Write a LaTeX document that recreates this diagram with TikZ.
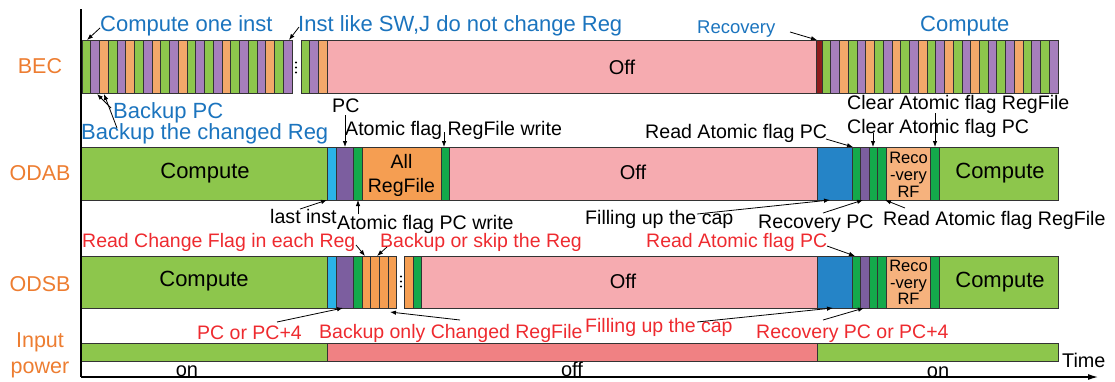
\documentclass[tikz,border=0pt]{standalone}
\usepackage{fontspec}
\setmainfont{Liberation Sans}
\usetikzlibrary{arrows.meta}

\definecolor{cG}{HTML}{8DC64C}
\definecolor{cP}{HTML}{A67FBC}
\definecolor{cO}{HTML}{F3A86A}
\definecolor{cPink}{HTML}{F6ABB0}
\definecolor{cDarkRed}{HTML}{8E1C1C}
\definecolor{cCyan}{HTML}{2AB3E8}
\definecolor{cBlue}{HTML}{2584C7}
\definecolor{cDkGreen}{HTML}{14A94B}
\definecolor{cDkPurple}{HTML}{7C5E9F}
\definecolor{cAllOrange}{HTML}{F59E52}
\definecolor{cLtOrange}{HTML}{F6B27D}
\definecolor{cSalmon}{HTML}{F08183}
\definecolor{cLabel}{HTML}{ED7D31}
\definecolor{cBlueText}{HTML}{1B74BE}
\definecolor{cRedText}{HTML}{EE2A2F}

\tikzset{
  seg/.style={draw=black!80, line width=0.7pt},
  bluelab/.style={font=\fontsize{22}{24}\selectfont, text=cBlueText, inner sep=0pt, anchor=base west},
  blacklab/.style={font=\fontsize{19.6}{22}\selectfont, inner sep=0pt, anchor=base west},
  redlab/.style={font=\fontsize{19.5}{22}\selectfont, text=cRedText, inner sep=0pt, anchor=base west},
  rowlab/.style={font=\fontsize{21.5}{26}\selectfont, text=cLabel, inner sep=0pt, anchor=base},
  inbar/.style={font=\fontsize{22}{24}\selectfont, inner sep=0pt, anchor=base},
  offtxt/.style={font=\fontsize{20}{24}\selectfont, inner sep=0pt, anchor=base},
  smalltxt/.style={font=\fontsize{16.5}{18}\selectfont, inner sep=0pt, anchor=base},
  midtxt/.style={font=\fontsize{19.5}{22}\selectfont, inner sep=0pt, anchor=base},
  ptr/.style={-{Latex[length=6pt,width=4.5pt]}, line width=0.8pt},
}

\begin{document}
\begin{tikzpicture}[x=1pt,y=-1pt]
\useasboundingbox (0,0) rectangle (1115,381);

% ---------------- row labels ----------------
\node[rowlab] (rBEC)  at (40,73)  {BEC};
\node[rowlab] (rODAB) at (40,180) {ODAB};
\node[rowlab] (rODSB) at (40,291) {ODSB};
\node[rowlab] (rIn1)  at (40,347) {Input};
\node[rowlab] (rIn2)  at (40,373) {power};

% ---------------- BEC row ----------------
\foreach \c [count=\i from 0] in {G,P,O,G,P,O,G,P,O,G,P,O,G,P,G,P,O,G,P,G,P,O,G,P}
  \path[seg,fill=c\c] ({82+\i*8.75},40) rectangle ({82+(\i+1)*8.75},93);
\foreach \yy in {62.5,67.5,72.5}
  \fill (296,\yy) circle (1.2);
\foreach \c [count=\i from 0] in {G,P,O}
  \path[seg,fill=c\c] ({301+\i*8.67},40) rectangle ({301+(\i+1)*8.67},93);
\path[seg,fill=cPink] (327,40) rectangle (816,93);
\path[seg,fill=cDarkRed] (816,40) rectangle (822,93);
\foreach \c [count=\i from 0] in {G,P,O,G,P,O,G,P,O,G,P,O,G,P,O,G,P,O,G,P,G,P,O,G,P,G,P}
  \path[seg,fill=c\c] ({822+\i*8.74},40) rectangle ({822+(\i+1)*8.74},93);
\node[offtxt] (bOff) at (622,74) {Off};

% ---------------- ODAB row ----------------
\path[seg,fill=cG]         (81,147)  rectangle (327,200);
\path[seg,fill=cCyan]      (327,147) rectangle (336,200);
\path[seg,fill=cDkPurple]  (336,147) rectangle (353,200);
\path[seg,fill=cDkGreen]   (353.5,147) rectangle (362,200);
\path[seg,fill=cAllOrange] (362,147) rectangle (441,200);
\path[seg,fill=cDkGreen]   (441,147) rectangle (449,200);
\path[seg,fill=cPink]      (449,147) rectangle (817,200);
\path[seg,fill=cBlue]      (817,147) rectangle (852,200);
\path[seg,fill=cDkGreen]   (852,147) rectangle (860.5,200);
\path[seg,fill=cDkPurple]  (860.5,147) rectangle (869,200);
\path[seg,fill=cDkGreen]   (869,147) rectangle (877.5,200);
\path[seg,fill=cDkGreen]   (877.5,147) rectangle (886.5,200);
\path[seg,fill=cLtOrange]  (886.5,147) rectangle (930,200);
\path[seg,fill=cDkGreen]   (930,147) rectangle (939,200);
\path[seg,fill=cG]         (939,147) rectangle (1058,200);
\node[inbar] (aComp1) at (205,178) {Compute};
\node[midtxt] (aAll1) at (401.5,168) {All};
\node[midtxt] (aAll2) at (401.5,192) {RegFile};
\node[offtxt] (aOff) at (633,179) {Off};
\node[smalltxt] (aRec1) at (908.5,163) {Reco};
\node[smalltxt] (aRec2) at (908.5,180) {-very};
\node[smalltxt] (aRec3) at (908.5,197) {RF};
\node[inbar] (aComp2) at (1000,178) {Compute};

% ---------------- ODSB row ----------------
\path[seg,fill=cG]         (81,256)  rectangle (327,308);
\path[seg,fill=cCyan]      (327,256) rectangle (336,308);
\path[seg,fill=cDkPurple]  (336,256) rectangle (353,308);
\path[seg,fill=cDkGreen]   (353.5,256) rectangle (362,308);
\foreach \i in {0,...,3}
  \path[seg,fill=cAllOrange] ({362+\i*8.7},256) rectangle ({362+(\i+1)*8.7},308);
\foreach \yy in {276.5,281.5,286.5}
  \fill (401,\yy) circle (1.2);
\path[seg,fill=cAllOrange] (404.5,256) rectangle (413,308);
\path[seg,fill=cDkGreen]   (413,256) rectangle (421,308);
\path[seg,fill=cPink]      (421,256) rectangle (817,308);
\path[seg,fill=cBlue]      (817,256) rectangle (852,308);
\path[seg,fill=cDkGreen]   (852,256) rectangle (860.5,308);
\path[seg,fill=cDkPurple]  (860.5,256) rectangle (869,308);
\path[seg,fill=cDkGreen]   (869,256) rectangle (877.5,308);
\path[seg,fill=cDkGreen]   (877.5,256) rectangle (886.5,308);
\path[seg,fill=cLtOrange]  (886.5,256) rectangle (930,308);
\path[seg,fill=cDkGreen]   (930,256) rectangle (939,308);
\path[seg,fill=cG]         (939,256) rectangle (1058,308);
\node[inbar] (sComp1) at (204,286) {Compute};
\node[offtxt] (sOff) at (623,288) {Off};
\node[smalltxt] (sRec1) at (908.5,271) {Reco};
\node[smalltxt] (sRec2) at (908.5,288) {-very};
\node[smalltxt] (sRec3) at (908.5,304) {RF};
\node[inbar] (sComp2) at (1000,287) {Compute};

% ---------------- input power row ----------------
\path[seg,fill=cG]      (81,343)  rectangle (327,361);
\path[seg,fill=cSalmon] (327,343) rectangle (817,361);
\path[seg,fill=cG]      (817,343) rectangle (1058,361);
\node[offtxt] (pOn1) at (187,376) {on};
\node[offtxt] (pOff) at (572,376) {off};
\node[offtxt] (pOn2) at (938,377) {on};

% ---------------- axes ----------------
\coordinate (axTop) at (81,9);
\coordinate (axO) at (81,377);
\coordinate (axEnd) at (1098,377);
\draw[line width=1.2pt] (axTop) -- (axO);
\draw[line width=1.2pt, -{Latex[length=10pt,width=6pt]}] (axO) -- (axEnd);
\node[font=\fontsize{19.8}{22}\selectfont, inner sep=0pt, anchor=base west] (tTime) at (1062,367) {Time};

% ---------------- BEC annotations ----------------
\node[bluelab] (lCone) at (100,31) {Compute one inst};
\node[bluelab] (lInst) at (298,31) {Inst like SW,J do not change Reg};
\node[bluelab, font=\fontsize{18.5}{20}\selectfont] (lRecov) at (697,33) {Recovery};
\node[bluelab] (lComp) at (920,31) {Compute};
\node[bluelab] (lBpc) at (113,118) {Backup PC};
\node[bluelab] (lBreg) at (81,139) {Backup the changed Reg};

\coordinate (t1) at (100,28);  \coordinate (h1) at (87,40);
\coordinate (t2) at (299,27);  \coordinate (h2) at (289,40);
\coordinate (t3) at (790,32);  \coordinate (h3) at (817,40);
\coordinate (t4) at (111,108); \coordinate (h4) at (97,94);
\coordinate (t5) at (117,128); \coordinate (h5) at (104,94);
\draw[ptr] (t1) -- (h1);
\draw[ptr] (t2) -- (h2);
\draw[ptr] (t3) -- (h3);
\draw[ptr] (t4) -- (h4);
\draw[ptr] (t5) -- (h5);

% ---------------- ODAB annotations ----------------
\node[blacklab] (oPC) at (332,112) {PC};
\node[blacklab] (oAFRW) at (345,135) {Atomic flag RegFile write};
\node[blacklab] (oLast) at (270,223) {last inst};
\node[blacklab] (oAFPW) at (337,229) {Atomic flag PC write};
\node[blacklab] (oRAFP) at (645,138) {Read Atomic flag PC};
\node[blacklab] (oCAFR) at (847,109) {Clear Atomic flag RegFile};
\node[blacklab] (oCAFP) at (847,133) {Clear Atomic flag PC};
\node[blacklab] (oFill) at (585,224) {Filling up the cap};
\node[blacklab] (oRPC) at (758,228) {Recovery PC};
\node[blacklab] (oRAFR) at (883,225) {Read Atomic flag RegFile};

\coordinate (t6) at (345,115);  \coordinate (h6) at (345,147);
\coordinate (t7) at (444,132);  \coordinate (h7) at (444,147);
\coordinate (t8) at (300,209);  \coordinate (h8) at (327,200);
\coordinate (t9) at (358,214);  \coordinate (h9) at (358,200);
\coordinate (t10) at (826,139); \coordinate (h10) at (853,147);
\coordinate (t11) at (935,113); \coordinate (h11) at (935,147);
\coordinate (t12) at (873,133); \coordinate (h12) at (873,147);
\coordinate (t13) at (697,214); \coordinate (h13) at (830,200);
\coordinate (t14) at (823,213); \coordinate (h14) at (863,200);
\coordinate (t15) at (905,208); \coordinate (h15) at (885,200);
\foreach \k in {6,...,15}
  \draw[ptr] (t\k) -- (h\k);

% ---------------- ODSB annotations ----------------
\node[redlab] (sRCF) at (82,247) {Read Change Flag in each Reg};
\node[redlab] (sBoS) at (380,247) {Backup or skip the Reg};
\node[redlab] (sRAFP) at (646,247) {Read Atomic flag PC};
\node[redlab] (sPC4) at (197,339) {PC or PC+4};
\node[redlab] (sBOC) at (319,338) {Backup only Changed RegFile};
\node[redlab] (sFill) at (585,332) {Filling up the cap};
\node[redlab] (sRPC4) at (756,338) {Recovery PC or PC+4};

\coordinate (t16) at (356,245); \coordinate (h16) at (365,256);
\coordinate (t17) at (387,247); \coordinate (h17) at (377,256);
\coordinate (t18) at (827,246); \coordinate (h18) at (855,256);
\coordinate (t19) at (277,322); \coordinate (h19) at (343,308);
\coordinate (t20) at (460,320); \coordinate (h20) at (390,312);
\coordinate (t21) at (697,322); \coordinate (h21) at (833,308);
\coordinate (t22) at (823,320); \coordinate (h22) at (864,308);
\foreach \k in {16,...,22}
  \draw[ptr] (t\k) -- (h\k);

\end{tikzpicture}
\end{document}
